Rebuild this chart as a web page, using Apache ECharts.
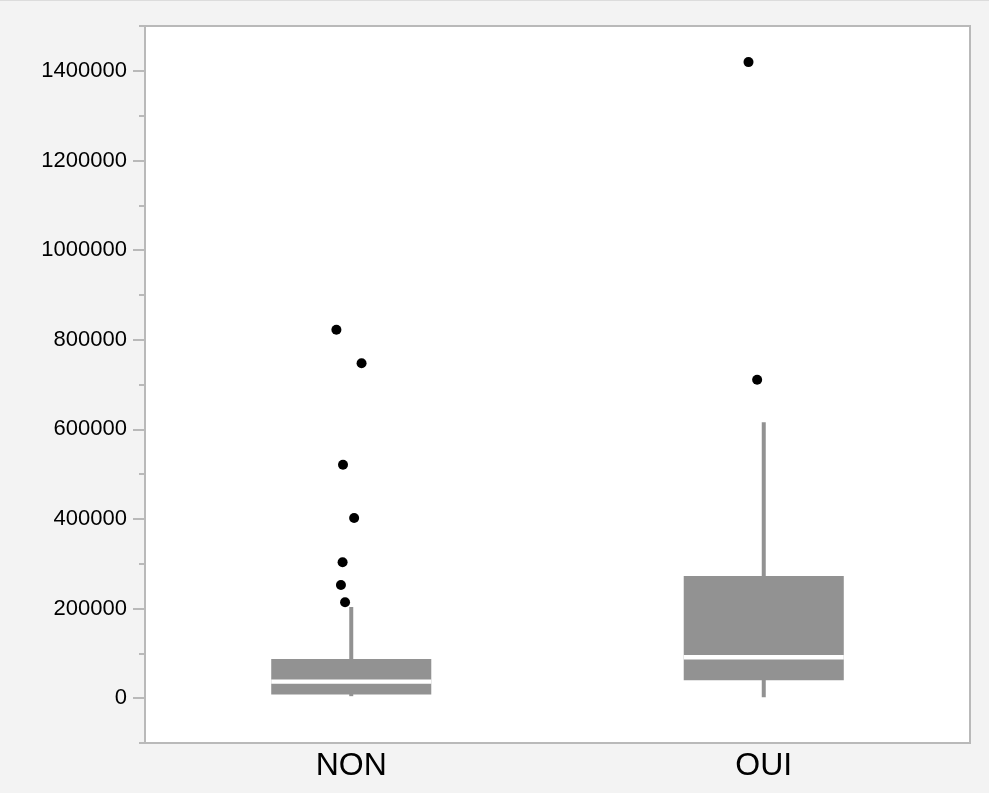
<!DOCTYPE html>
<html>
<head>
<meta charset="utf-8">
<script src="https://cdn.jsdelivr.net/npm/echarts@6/dist/echarts.min.js"></script>
<style>
  html, body { margin: 0; padding: 0; background: #f3f3f3; }
  #chart { width: 989px; height: 792px; border-top: 1px solid #dcdcdc; }
</style>
</head>
<body>
<div id="chart"></div>
<script>
// ---- data ----
const categories = ['NON', 'OUI'];
const whiskerLow  = [4500, 2200];
const q1          = [8300, 40300];
const median      = [36900, 91300];
const q3          = [87200, 272800];
const whiskerHigh = [203500, 615700];

const outliersNON = [822300, 747600, 521100, 401900, 303500, 252700, 214000];
const jitterNON   = [-0.036, 0.025, -0.020, 0.007, -0.021, -0.025, -0.015];
const outliersOUI = [1419400, 710500];
const jitterOUI   = [-0.037, -0.016];

const majorTicks = [0, 200000, 400000, 600000, 800000, 1000000, 1200000, 1400000];
const minorTicks = [-100000, 100000, 300000, 500000, 700000, 900000, 1100000, 1300000, 1500000];

// ---- build series data ----
const boxData = categories.map((c, i) => [i, whiskerLow[i], q1[i], median[i], q3[i], whiskerHigh[i]]);
const outlierData = [];
outliersNON.forEach((v, k) => outlierData.push([0 + jitterNON[k], v]));
outliersOUI.forEach((v, k) => outlierData.push([1 + jitterOUI[k], v]));

const BOX = '#929292';
const AXIS = '#b9b9b9';
const FONT = '"Liberation Sans", Arial, Helvetica, sans-serif';

function renderBox(params, api) {
  const i = api.value(0);
  const band = api.size([1, 0])[0];
  const half = band * 0.388 / 2;
  const pLow = api.coord([i, api.value(1)]);
  const pQ1 = api.coord([i, api.value(2)]);
  const pMed = api.coord([i, api.value(3)]);
  const pQ3 = api.coord([i, api.value(4)]);
  const pHigh = api.coord([i, api.value(5)]);
  const cx = pMed[0];
  return {
    type: 'group',
    children: [
      { type: 'line', shape: { x1: cx, y1: pLow[1], x2: cx, y2: pHigh[1] },
        style: { stroke: BOX, lineWidth: 4 } },
      { type: 'rect', shape: { x: cx - half, y: pQ3[1], width: half * 2, height: pQ1[1] - pQ3[1] },
        style: { fill: BOX } },
      { type: 'line', shape: { x1: cx - half, y1: pMed[1], x2: cx + half, y2: pMed[1] },
        style: { stroke: '#ffffff', lineWidth: 4.4 } }
    ]
  };
}

const chart = echarts.init(document.getElementById('chart'), null, { renderer: 'canvas' });
chart.setOption({
  animation: false,
  backgroundColor: '#f3f3f3',
  grid: {
    left: 145, right: 19, top: 25, bottom: 50,
    show: true, backgroundColor: '#ffffff', borderColor: AXIS, borderWidth: 2
  },
  xAxis: [
    {
      type: 'category', data: categories, boundaryGap: true,
      axisLine: { show: true, onZero: false, lineStyle: { color: AXIS, width: 2 } },
      axisTick: { show: false },
      splitLine: { show: false },
      axisLabel: { color: '#000', fontSize: 32, fontFamily: FONT, margin: 7 }
    },
    {
      type: 'value', min: -0.5, max: 1.5, show: false, position: 'bottom',
      axisLine: { show: false, onZero: false },
      splitLine: { show: false }
    }
  ],
  yAxis: [
    {
      type: 'value', position: 'left', min: -100000, max: 1500000, interval: 100000,
      axisLine: { show: true, onZero: false, lineStyle: { color: AXIS, width: 2 } },
      axisTick: { show: true, length: 12, customValues: majorTicks, lineStyle: { color: AXIS, width: 2 } },
      axisLabel: { customValues: majorTicks, color: '#000', fontSize: 22, fontFamily: FONT, margin: 18,
                   formatter: v => String(v) },
      splitLine: { show: false }
    },
    {
      type: 'value', position: 'left', min: -100000, max: 1500000, interval: 100000,
      axisLine: { show: false, onZero: false },
      axisTick: { show: true, length: 6, customValues: minorTicks, lineStyle: { color: AXIS, width: 2 } },
      axisLabel: { show: false },
      splitLine: { show: false }
    }
  ],
  series: [
    {
      type: 'custom', xAxisIndex: 0, yAxisIndex: 0,
      renderItem: renderBox,
      encode: { x: 0, y: [1, 2, 3, 4, 5] },
      data: boxData
    },
    {
      type: 'scatter', xAxisIndex: 1, yAxisIndex: 0,
      symbol: 'circle', symbolSize: 10,
      itemStyle: { color: '#000', opacity: 1 },
      data: outlierData
    }
  ]
});
</script>
</body>
</html>
